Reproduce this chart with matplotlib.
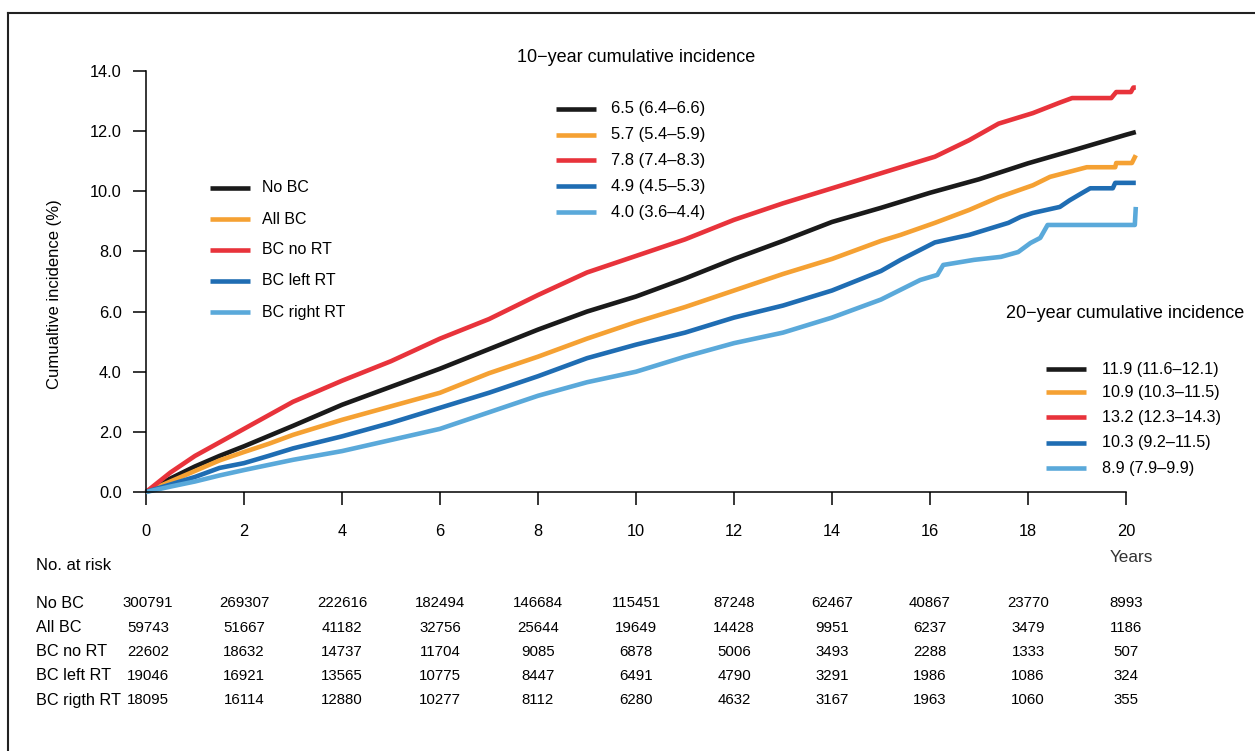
import numpy as np
import matplotlib.pyplot as plt
from matplotlib.lines import Line2D

plt.rcParams['font.family'] = ['Liberation Sans', 'DejaVu Sans']

# cumulative incidence curves (years, %)
nobc_x = [0, 0.5, 1, 1.5, 2, 3, 4, 5, 6, 7, 8, 9, 10, 11, 12, 13, 14, 15, 16, 17, 18, 19, 20, 20.2]
nobc_y = [0, 0.45, 0.85, 1.2, 1.52, 2.2, 2.9, 3.5, 4.1, 4.75, 5.4, 6.0, 6.5, 7.1, 7.75, 8.35, 8.98,
          9.45, 9.95, 10.4, 10.93, 11.4, 11.88, 11.97]

allbc_x = [0, 0.5, 1, 1.5, 2, 2.5, 3, 4, 5, 6, 7, 8, 9, 10, 11, 12, 13, 14, 15, 15.4, 16.1, 16.8,
           17.4, 18.1, 18.45, 19.2, 19.78, 19.8, 20.12, 20.2]
allbc_y = [0, 0.35, 0.7, 1.05, 1.33, 1.6, 1.9, 2.4, 2.85, 3.3, 3.95, 4.5, 5.1, 5.65, 6.15, 6.7, 7.25,
           7.75, 8.35, 8.55, 8.95, 9.38, 9.8, 10.2, 10.48, 10.8, 10.8, 10.94, 10.94, 11.2]

nort_x = [0, 0.5, 1, 1.5, 2, 2.5, 3, 4, 5, 6, 7, 8, 9, 10, 11, 12, 13, 14, 15, 15.4, 16.1, 16.8,
          17.4, 18.1, 18.65, 18.9, 19.7, 19.8, 20.1, 20.15, 20.2]
nort_y = [0, 0.65, 1.2, 1.65, 2.1, 2.55, 3.0, 3.7, 4.35, 5.1, 5.75, 6.55, 7.3, 7.85, 8.4, 9.05, 9.6,
          10.1, 10.6, 10.8, 11.15, 11.7, 12.25, 12.6, 12.95, 13.1, 13.1, 13.3, 13.3, 13.45, 13.45]

leftrt_x = [0, 0.5, 1, 1.5, 2, 2.5, 3, 4, 5, 6, 7, 8, 9, 10, 11, 12, 13, 14, 15, 15.4, 16.1, 16.8,
            17.1, 17.6, 17.85, 18.1, 18.65, 18.85, 19.1, 19.27, 19.73, 19.78, 20.2]
leftrt_y = [0, 0.25, 0.5, 0.8, 0.96, 1.2, 1.45, 1.85, 2.3, 2.8, 3.3, 3.85, 4.45, 4.9, 5.3, 5.8, 6.2,
            6.7, 7.35, 7.72, 8.3, 8.55, 8.7, 8.95, 9.15, 9.28, 9.48, 9.7, 9.94, 10.1, 10.1, 10.28, 10.28]

rightrt_x = [0, 0.5, 1, 1.5, 2, 2.5, 3, 4, 5, 6, 7, 8, 9, 10, 11, 12, 13, 14, 15, 15.8, 16.15, 16.27,
             16.9, 17.45, 17.8, 18.05, 18.25, 18.4, 20.18, 20.2]
rightrt_y = [0, 0.18, 0.35, 0.55, 0.73, 0.9, 1.07, 1.36, 1.73, 2.1, 2.65, 3.2, 3.65, 4.0, 4.5, 4.95,
             5.3, 5.8, 6.4, 7.05, 7.22, 7.55, 7.72, 7.82, 7.98, 8.28, 8.45, 8.88, 8.88, 9.48]

groups = ['No BC', 'All BC', 'BC no RT', 'BC left RT', 'BC right RT']
colors = ['#1a1a1a', '#f5a133', '#e8333b', '#1f6db3', '#5aa9da']
ci10 = ['6.5 (6.4\u20136.6)', '5.7 (5.4\u20135.9)', '7.8 (7.4\u20138.3)', '4.9 (4.5\u20135.3)', '4.0 (3.6\u20134.4)']
ci20 = ['11.9 (11.6\u201312.1)', '10.9 (10.3\u201311.5)', '13.2 (12.3\u201314.3)', '10.3 (9.2\u201311.5)', '8.9 (7.9\u20139.9)']

# numbers at risk
risk_years = [0, 2, 4, 6, 8, 10, 12, 14, 16, 18, 20]
risk_labels = ['No BC', 'All BC', 'BC no RT', 'BC left RT', 'BC rigth RT']
risk_nobc = [300791, 269307, 222616, 182494, 146684, 115451, 87248, 62467, 40867, 23770, 8993]
risk_allbc = [59743, 51667, 41182, 32756, 25644, 19649, 14428, 9951, 6237, 3479, 1186]
risk_nort = [22602, 18632, 14737, 11704, 9085, 6878, 5006, 3493, 2288, 1333, 507]
risk_leftrt = [19046, 16921, 13565, 10775, 8447, 6491, 4790, 3291, 1986, 1086, 324]
risk_rightrt = [18095, 16114, 12880, 10277, 8112, 6280, 4632, 3167, 1963, 1060, 355]

W, H = 1255, 751
fig = plt.figure(figsize=(W / 100, H / 100), dpi=100)

def fx(px):
    return px / W

def fy(py):
    return 1 - py / H

ax = fig.add_axes([fx(146), fy(492), fx(994.7), 421 / H])
curves = [(nobc_x, nobc_y), (allbc_x, allbc_y), (nort_x, nort_y),
          (leftrt_x, leftrt_y), (rightrt_x, rightrt_y)]
for (xs, ys), c in zip(curves, colors):
    ax.plot(xs, ys, color=c, lw=3.3, solid_capstyle='butt', clip_on=False)

ax.set_xlim(0, 20.3)
ax.set_ylim(0, 14)
ax.set_xticks(np.arange(0, 21, 2))
ax.set_yticks(np.arange(0, 15, 2))
ax.set_yticklabels(['%.1f' % v for v in np.arange(0, 15, 2)])
for s in ('top', 'right'):
    ax.spines[s].set_visible(False)
ax.spines['left'].set_bounds(0, 14)
ax.spines['bottom'].set_bounds(0, 20)
for s in ('left', 'bottom'):
    ax.spines[s].set_linewidth(1.1)
ax.tick_params(axis='both', length=9.4, width=1.1, labelsize=11.8)
ax.tick_params(axis='y', pad=8)
ax.tick_params(axis='x', pad=14)
ax.set_ylabel('Cumualtive incidence (%)', fontsize=12, labelpad=0)
ax.yaxis.set_label_coords((62 - 146) / 994.7, 0.47)

# legends drawn by hand
def legend_block(x0, text_x, ys, labels, size):
    for y, lab, c in zip(ys, labels, colors):
        fig.add_artist(Line2D([fx(x0), fx(x0 + 40)], [fy(y), fy(y)], color=c, lw=3.3,
                              solid_capstyle='butt'))
        fig.text(fx(text_x), fy(y), lab, fontsize=size, va='center', ha='left')

legend_block(210, 262, [188, 219, 250, 281, 312], groups, 11.5)
fig.text(fx(636), fy(57), '10\u2212year cumulative incidence', fontsize=13, ha='center', va='center')
legend_block(556, 611, [109, 135, 160, 186, 212], ci10, 12)
fig.text(fx(1125), fy(313), '20\u2212year cumulative incidence', fontsize=13, ha='center', va='center')
legend_block(1046, 1102, [369, 392, 417, 443, 468], ci20, 11.6)

# risk table
fig.text(fx(1131), fy(558), 'Years', fontsize=12.3, ha='center', va='center', color='#333333')
fig.text(fx(36), fy(565), 'No. at risk', fontsize=12, ha='left', va='center')
rows = [risk_nobc, risk_allbc, risk_nort, risk_leftrt, risk_rightrt]
row_y = [603, 628, 652, 676, 700]
for lab, vals, y in zip(risk_labels, rows, row_y):
    fig.text(fx(36), fy(y), lab, fontsize=11.7, ha='left', va='center')
    for yr, v in zip(risk_years, vals):
        fig.text(fx(146 + 49 * yr + (2 if yr == 0 else 0)), fy(y), str(v), fontsize=10.8,
                 ha='center', va='center')

# frame around the figure (top and left edges only visible)
fig.add_artist(Line2D([fx(8), 1], [fy(13), fy(13)], color='#222222', lw=1.5))
fig.add_artist(Line2D([fx(8), fx(8)], [fy(13), 0], color='#222222', lw=1.5))

fig.savefig('out.png', dpi=100)
